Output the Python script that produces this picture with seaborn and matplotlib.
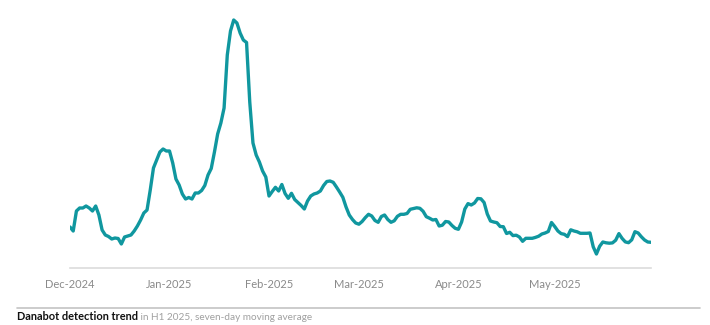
import numpy as np
import pandas as pd
import matplotlib
matplotlib.use("Agg")
import matplotlib.pyplot as plt
import matplotlib.dates as mdates
import seaborn as sns

# ---- data (seven-day moving average) ----
start_date = "2024-12-01"
detections = [
    41, 37, 57, 60, 60, 62, 60, 57, 62, 53,
    38, 33, 31.5, 29, 30, 29.5, 24, 31, 32, 33,
    37, 42, 48, 55, 58, 78, 100, 108, 116, 119,
    117, 117, 105, 89, 83, 74, 69, 70.5, 69, 75,
    75, 77.5, 82.5, 93, 99.5, 116, 134, 145, 160, 213,
    237, 248, 245, 235, 228, 225.5, 166, 125, 113, 106,
    97, 91, 72, 76.5, 80.7, 77, 83.5, 74.5, 69.7, 74.7,
    68.5, 65.5, 62.5, 59, 67, 72, 74, 75, 77, 82.5,
    86.5, 87, 85.7, 81, 76, 70.7, 61, 53, 48.5, 45,
    43.8, 46.5, 50.4, 53.7, 52, 47.5, 45.7, 51.5, 53, 48.5,
    45.7, 47.2, 51.7, 53.7, 53.7, 54.5, 58.7, 59.5, 60.2, 59.7,
    56.7, 51.3, 49.8, 48, 48.5, 42, 42.8, 46.5, 46, 42.5,
    39.7, 38.7, 46, 59, 64.4, 63, 65, 69.5, 69.2, 65.5,
    54, 47, 46, 45.3, 41.5, 41.3, 34.5, 35.7, 32.4, 32.8,
    31, 26.7, 29.7, 29.7, 29.7, 30.6, 31.8, 34, 35, 36.5,
    45.5, 41.5, 37, 34.4, 33.7, 31.4, 38.2, 37, 36.2, 34.7,
    34.7, 34.7, 35, 21.2, 14, 21.7, 26, 25.2, 24.8, 25.1,
    27.8, 34.4, 29.6, 26.1, 25.3, 28.2, 36.3, 35, 31.2, 28,
    26, 25.7,
]
month_ticks = ["2024-12-01", "2025-01-01", "2025-02-01", "2025-03-01",
               "2025-04-01", "2025-05-01"]
title_bold = "Danabot detection trend"
title_rest = " in H1 2025, seven-day moving average"

dates = pd.date_range(start_date, periods=len(detections), freq="D")
df = pd.DataFrame({"date": dates, "value": detections})

sns.set_style("white")
plt.rcParams["font.family"] = ["Lato", "DejaVu Sans"]

W, H = 710, 325
fig = plt.figure(figsize=(W / 100, H / 100), dpi=100)
ax = fig.add_axes([70 / W, (H - 268) / H, (651 - 70) / W, 258 / H])

LINE = "#10979f"
sns.lineplot(data=df, x="date", y="value", ax=ax, color=LINE, linewidth=2.4)

ax.set_xlim(dates[0], dates[-1])
ax.set_ylim(0, 258)
ax.set_xlabel("")
ax.set_ylabel("")
ax.set_yticks([])
for s in ["top", "right", "left"]:
    ax.spines[s].set_visible(False)
ax.spines["bottom"].set_color("#dcdcdc")
ax.spines["bottom"].set_linewidth(1.2)

ax.set_xticks(pd.to_datetime(month_ticks))
ax.xaxis.set_major_formatter(mdates.DateFormatter("%b-%Y"))
ax.tick_params(axis="x", direction="out", length=3, width=0.8,
               color="#d0d0d0", labelcolor="#8a8a8a", labelsize=8, pad=5)

# caption rule and caption text
fig.add_artist(plt.Line2D([17 / W, 700 / W], [(H - 308) / H, (H - 308) / H],
                          color="#c4c4c4", linewidth=1.2))
t1 = fig.text(17 / W, (H - 317) / H, title_bold, fontsize=7.9,
              fontweight="bold", color="#111111", va="center", ha="left")
fig.canvas.draw()
bb = t1.get_window_extent()
fig.text(bb.x1 / W, (H - 317) / H, title_rest, fontsize=7.2,
         color="#a0a0a0", va="center", ha="left")

fig.savefig("out.png", dpi=100)
